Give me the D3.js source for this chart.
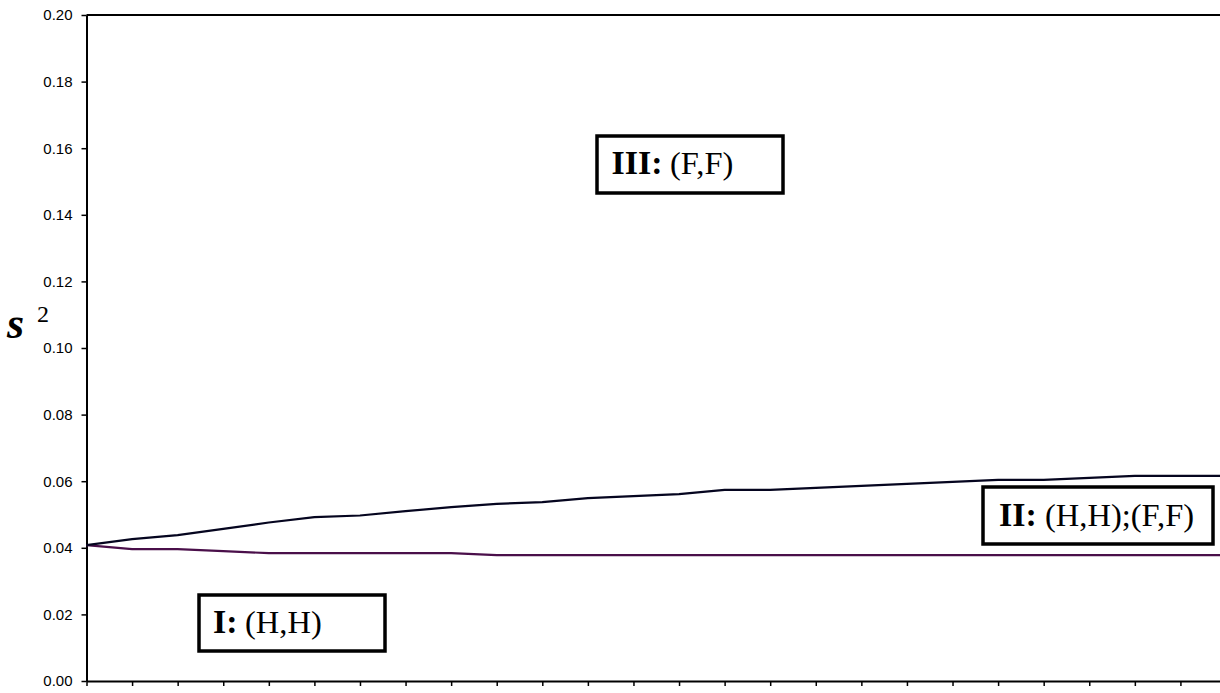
<html><head>
<meta charset="utf-8">
<title>s2</title>
<style>
  body {margin:0; background:#fff;}
  svg {display:block;}
</style>
</head>
<body>
<script src="https://cdn.jsdelivr.net/npm/d3@7"></script>
<script>
// step index along the (unlabelled) x axis
var steps = [0,1,2,3,4,5,6,7,8,9,10,11,12,13,14,15,16,17,18,19,20,21,22,23,24,25];
// upper boundary (III above, II below)
var upperValues = [0.0408,0.0426,0.0438,0.0457,0.0476,0.0492,0.0497,0.0510,0.0522,0.0532,0.0537,0.0549,0.0555,
                   0.0561,0.0574,0.0574,0.0580,0.0586,0.0592,0.0598,0.0604,0.0604,0.0610,0.0616,0.0616,0.0616];
// lower boundary (II above, I below)
var lowerValues = [0.0408,0.0396,0.0396,0.0390,0.0384,0.0384,0.0384,0.0384,0.0384,0.0378,0.0378,0.0378,0.0378,
                   0.0378,0.0378,0.0378,0.0378,0.0378,0.0378,0.0378,0.0378,0.0378,0.0378,0.0378,0.0378,0.0378];
var yTicks = [0,0.02,0.04,0.06,0.08,0.10,0.12,0.14,0.16,0.18,0.20];

var width = 1220, height = 693;
var plotLeft = 86.5, plotTop = 15, plotBottom = 681, step = 45.58;

var svg = d3.select("body").append("svg")
    .attr("width", width)
    .attr("height", height);

var x = d3.scaleLinear().domain([0, 25]).range([plotLeft, plotLeft + 25 * step]);
var y = d3.scaleLinear().domain([0, 0.2]).range([plotBottom, plotTop]);

// top border of plot area
svg.append("line")
    .attr("x1", plotLeft).attr("x2", width)
    .attr("y1", plotTop).attr("y2", plotTop)
    .attr("stroke", "#000").attr("stroke-width", 2);

// y axis
var yAxis = svg.append("g")
    .attr("transform", "translate(" + plotLeft + ",0)")
    .call(d3.axisLeft(y).tickValues(yTicks).tickFormat(d3.format(".2f")).tickSize(5).tickSizeOuter(0).tickPadding(9));
yAxis.select(".domain").attr("stroke-width", 2);
yAxis.selectAll(".tick line").attr("stroke-width", 1.5);
yAxis.selectAll("text")
    .attr("font-family", "Liberation Sans, Arial, sans-serif")
    .attr("font-size", 15)
    .attr("fill", "#000");

// x axis, ticks only
var xAxis = svg.append("g")
    .attr("transform", "translate(0," + plotBottom + ")")
    .call(d3.axisBottom(x).tickValues(steps).tickSize(5).tickSizeOuter(0).tickFormat(""));
xAxis.select(".domain").attr("stroke-width", 2);
xAxis.selectAll(".tick line").attr("stroke-width", 1.5);

var line = d3.line()
    .x(function(d, i){ return x(steps[i]); })
    .y(function(d){ return y(d); });

svg.append("path")
    .datum(lowerValues)
    .attr("d", line)
    .attr("fill", "none")
    .attr("stroke", "#4a0f4a")
    .attr("stroke-width", 2.2);

svg.append("path")
    .datum(upperValues)
    .attr("d", line)
    .attr("fill", "none")
    .attr("stroke", "#05051f")
    .attr("stroke-width", 2.2);

// region labels
var boxes = [
    {x:597, y:136, w:186, h:57, bx:611.5, rx:670, base:174, b:"III:", r:"(F,F)"},
    {x:983, y:487, w:230, h:57, bx:999, rx:1045, base:526, b:"II:", r:"(H,H);(F,F)"},
    {x:199, y:595, w:186, h:56, bx:213, rx:245, base:633, b:"I:", r:"(H,H)"}
];
boxes.forEach(function(d){
    svg.append("rect")
        .attr("x", d.x).attr("y", d.y)
        .attr("width", d.w).attr("height", d.h)
        .attr("fill", "#fff")
        .attr("stroke", "#000").attr("stroke-width", 3.5);
    var t = svg.append("text")
        .attr("y", d.base)
        .attr("font-family", "Liberation Serif, Times New Roman, serif");
    t.append("tspan").attr("x", d.bx).attr("font-size", 34).attr("font-weight", "bold").text(d.b);
    t.append("tspan").attr("x", d.rx).attr("font-size", 32.5).text(d.r);
});

// y axis title: s squared
var yt = svg.append("text")
    .attr("font-family", "Liberation Serif, Times New Roman, serif");
yt.append("tspan").attr("x", 7).attr("y", 338)
    .attr("font-size", 44).attr("font-weight", "bold").attr("font-style", "italic").text("s");
yt.append("tspan").attr("x", 37).attr("y", 322)
    .attr("font-size", 24).text("2");
</script>
</body></html>
